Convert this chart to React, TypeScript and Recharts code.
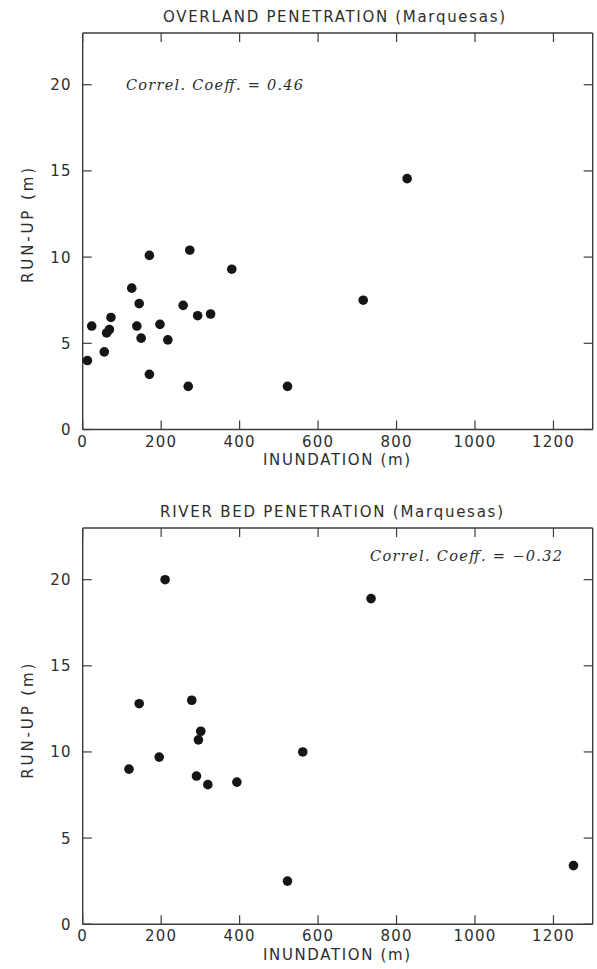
import React from 'react';
import { ScatterChart, Scatter, XAxis, YAxis } from 'recharts';

const overlandInundation = [12, 23, 55, 61, 68, 72, 125, 144, 138, 149, 170, 170, 197, 217, 256, 273, 269, 293, 326, 380, 522, 715, 827];
const overlandRunup = [4.0, 6.0, 4.5, 5.6, 5.8, 6.5, 8.2, 7.3, 6.0, 5.3, 10.1, 3.2, 6.1, 5.2, 7.2, 10.4, 2.5, 6.6, 6.7, 9.3, 2.5, 7.5, 14.55];
const riverInundation = [210, 144, 278, 301, 295, 118, 195, 290, 319, 393, 522, 561, 1251, 735];
const riverRunup = [20.0, 12.8, 13.0, 11.2, 10.7, 9.0, 9.7, 8.6, 8.1, 8.25, 2.5, 10.0, 3.4, 18.9];
const xTicks = [0, 200, 400, 600, 800, 1000, 1200];
const yTicks = [0, 5, 10, 15, 20];
const xDomain = [0, 1300];
const yDomain = [0, 23];

const FRAME = '#3c3c3c';
const TEXT = '#2e2e2e';
const SANS = '"DejaVu Sans", sans-serif';
const SERIF = '"DejaVu Serif", serif';

const XTick = (props: any) => {
  const { x, y, payload, dir, showLabel } = props;
  return (
    <g>
      <line x1={x} y1={y} x2={x} y2={y + dir * 9} stroke={FRAME} strokeWidth={1.2} />
      {showLabel && (
        <text x={x} y={y + 17} textAnchor="middle" fontFamily={SANS} fontSize={15} letterSpacing={1.2} fill={TEXT}>
          {payload.value}
        </text>
      )}
    </g>
  );
};

const YTick = (props: any) => {
  const { x, y, payload, dir, showLabel } = props;
  return (
    <g>
      <line x1={x} y1={y} x2={x + dir * 9} y2={y} stroke={FRAME} strokeWidth={1.2} />
      {showLabel && (
        <text x={x - 11} y={y + 5.5} textAnchor="end" fontFamily={SANS} fontSize={15} letterSpacing={1.2} fill={TEXT}>
          {payload.value}
        </text>
      )}
    </g>
  );
};

const Dot = (props: any) => {
  const { cx, cy } = props;
  return <circle cx={cx} cy={cy} r={4.8} fill="#151515" />;
};

const NoDot = () => <g />;

type PanelProps = {
  top: number;
  height: number;
  plotTop: number;
  plotBottom: number;
  xs: number[];
  ys: number[];
  title: string;
  titleX: number;
  titleY: number;
  titleLen: number;
  xLabelX: number;
  xLabelY: number;
  yLabelY: number;
  correl: string;
  correlX: number;
  correlY: number;
  correlLen: number;
};

const Panel = (p: PanelProps) => {
  const data = p.xs.map((x, i) => ({ x, y: p.ys[i] }));
  const plotLeft = 82.7;
  const plotRight = 592.7;
  const yAxisW = 60;
  const xAxisH = 40;
  const topH = 2;
  const rightW = 2;
  const axisLine = { stroke: FRAME, strokeWidth: 1.4 };
  return (
    <div style={{ position: 'absolute', left: 0, top: p.top, width: 597, height: p.height }}>
      <ScatterChart
        width={597}
        height={p.height}
        margin={{
          top: p.plotTop - topH,
          left: plotLeft - yAxisW,
          right: 597 - plotRight - rightW,
          bottom: p.height - p.plotBottom - xAxisH,
        }}
      >
        <XAxis
          xAxisId="b"
          dataKey="x"
          type="number"
          domain={xDomain}
          ticks={xTicks}
          interval={0}
          height={xAxisH}
          tickSize={0}
          tickMargin={0}
          tickLine={false}
          axisLine={axisLine}
          tick={<XTick dir={-1} showLabel />}
        />
        <XAxis
          xAxisId="t"
          orientation="top"
          dataKey="x"
          type="number"
          domain={xDomain}
          ticks={xTicks}
          interval={0}
          height={topH}
          tickSize={0}
          tickMargin={0}
          tickLine={false}
          axisLine={axisLine}
          tick={<XTick dir={1} showLabel={false} />}
        />
        <YAxis
          yAxisId="l"
          dataKey="y"
          type="number"
          domain={yDomain}
          ticks={yTicks}
          interval={0}
          width={yAxisW}
          tickSize={0}
          tickMargin={0}
          tickLine={false}
          axisLine={axisLine}
          tick={<YTick dir={1} showLabel />}
        />
        <YAxis
          yAxisId="r"
          orientation="right"
          dataKey="y"
          type="number"
          domain={yDomain}
          ticks={yTicks}
          interval={0}
          width={rightW}
          tickSize={0}
          tickMargin={0}
          tickLine={false}
          axisLine={axisLine}
          tick={<YTick dir={-1} showLabel={false} />}
        />
        <Scatter
          xAxisId="t"
          yAxisId="r"
          data={data}
          shape={<NoDot />}
          isAnimationActive={false}
        />
        <Scatter
          xAxisId="b"
          yAxisId="l"
          data={data}
          shape={<Dot />}
          isAnimationActive={false}
        />
      </ScatterChart>
      <svg
        width={597}
        height={p.height}
        style={{ position: 'absolute', left: 0, top: 0, pointerEvents: 'none' }}
      >
        <text
          x={p.titleX}
          y={p.titleY}
          textAnchor="middle"
          fontFamily={SANS}
          fontSize={15}
          fill={TEXT}
          textLength={p.titleLen}
          lengthAdjust="spacing"
        >
          {p.title}
        </text>
        <text
          x={p.xLabelX}
          y={p.xLabelY}
          textAnchor="middle"
          fontFamily={SANS}
          fontSize={15}
          fill={TEXT}
          textLength={147}
          lengthAdjust="spacing"
        >
          INUNDATION (m)
        </text>
        <text
          x={33}
          y={p.yLabelY}
          textAnchor="middle"
          fontFamily={SANS}
          fontSize={15}
          fill={TEXT}
          textLength={115}
          lengthAdjust="spacing"
          transform={`rotate(-90 33 ${p.yLabelY})`}
        >
          RUN-UP (m)
        </text>
        <text
          x={p.correlX}
          y={p.correlY}
          fontFamily={SERIF}
          fontStyle="italic"
          fontSize={14.5}
          fill={TEXT}
          textLength={p.correlLen}
          lengthAdjust="spacing"
        >
          {p.correl}
        </text>
      </svg>
    </div>
  );
};

export default function App() {
  return (
    <div style={{ position: 'absolute', left: 0, top: 0, width: 597, height: 969, background: '#fff', overflow: 'hidden' }}>
      <Panel
        top={0}
        height={485}
        plotTop={33}
        plotBottom={429.5}
        xs={overlandInundation}
        ys={overlandRunup}
        title="OVERLAND PENETRATION (Marquesas)"
        titleX={334}
        titleY={22}
        titleLen={342}
        xLabelX={336.5}
        xLabelY={465}
        yLabelY={225.5}
        correl="Correl. Coeff. = 0.46"
        correlX={126}
        correlY={90}
        correlLen={177}
      />
      <Panel
        top={495.3}
        height={473.7}
        plotTop={33}
        plotBottom={429.2}
        xs={riverInundation}
        ys={riverRunup}
        title="RIVER BED PENETRATION (Marquesas)"
        titleX={331.5}
        titleY={21.5}
        titleLen={343}
        xLabelX={336.5}
        xLabelY={464.7}
        yLabelY={226.2}
        correl="Correl. Coeff. = −0.32"
        correlX={370}
        correlY={66.4}
        correlLen={192}
      />
    </div>
  );
}
